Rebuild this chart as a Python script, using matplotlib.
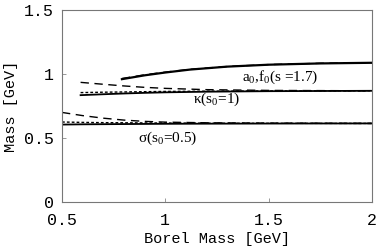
import matplotlib
matplotlib.use("Agg")
import matplotlib.pyplot as plt

plt.rcParams["mathtext.fontset"] = "custom"
plt.rcParams["mathtext.rm"] = "Liberation Serif"
plt.rcParams["mathtext.it"] = "Liberation Serif:italic"

# sigma (s0=0.5)
borel_sig = [0.5, 0.6, 0.7, 0.8, 0.9, 1.0, 1.2, 1.5, 2.0]
sig_solid = [0.605, 0.607, 0.608, 0.609, 0.610, 0.611, 0.612, 0.613, 0.614]
sig_dot = [0.625, 0.622, 0.620, 0.619, 0.618, 0.617, 0.616, 0.615, 0.614]
sig_dash = [0.700, 0.675, 0.655, 0.640, 0.630, 0.624, 0.619, 0.616, 0.614]

# kappa (s0=1)
borel_kap = [0.59, 0.7, 0.8, 0.9, 1.0, 1.2, 1.5, 2.0]
kap_solid = [0.835, 0.842, 0.848, 0.853, 0.857, 0.862, 0.866, 0.869]
kap_dot = [0.855, 0.858, 0.860, 0.862, 0.864, 0.866, 0.868, 0.869]
kap_dash = [0.935, 0.920, 0.907, 0.896, 0.888, 0.878, 0.872, 0.869]

# a0, f0 (s=1.7)
borel_a0 = [0.79, 0.9, 1.0, 1.12, 1.3, 1.5, 1.75, 2.0]
a0_solid = [0.960, 0.990, 1.012, 1.035, 1.058, 1.073, 1.083, 1.088]
a0_dash = [0.965, 0.994, 1.015, 1.037, 1.059, 1.074, 1.084, 1.089]

fig = plt.figure(figsize=(3.78, 2.46), dpi=100)
ax = fig.add_axes([0.164, 0.179, 0.820, 0.780])

lw = 1.3
for b, s, d, dd in [(borel_sig, sig_solid, sig_dot, sig_dash),
                    (borel_kap, kap_solid, kap_dot, kap_dash)]:
    ax.plot(b, s, color="black", lw=lw)
    ax.plot(b, d, color="black", lw=1.0, ls=(0, (2, 1.5)))
    ax.plot(b, dd, color="black", lw=1.0, ls=(0, (6, 4)))
ax.plot(borel_a0, a0_solid, color="black", lw=1.6)
ax.plot(borel_a0, a0_dash, color="black", lw=1.0, ls=(0, (6, 4)))

tfont = dict(family="Liberation Serif", fontsize=11)
ax.text(1.556, 0.975, "a$_0$,f$_0$(s =1.7)", ha="center", va="center", **tfont)
ax.text(1.25, 0.80, "κ(s$_0$=1)", ha="center", va="center", **tfont)
ax.text(1.01, 0.50, "σ(s$_0$=0.5)", ha="center", va="center", **tfont)

ax.set_xlim(0.5, 2)
ax.set_ylim(0, 1.5)
ax.set_xticks([0.5, 1, 1.5, 2])
ax.set_xticklabels(["0.5", "1", "1.5", "2"])
ax.set_yticks([0, 0.5, 1, 1.5])
ax.set_yticklabels(["0", "0.5", "1", "1.5"])
mono = "Liberation Mono"
for lab in ax.get_xticklabels() + ax.get_yticklabels():
    lab.set_family(mono)
    lab.set_fontsize(12)
ax.tick_params(direction="in", length=3, width=0.6, color="#888888")
ax.tick_params(axis="x", pad=8)
ax.tick_params(axis="y", pad=6)
for sp in ax.spines.values():
    sp.set_color("#777777")
    sp.set_linewidth(0.8)
ax.set_xlabel("Borel Mass [GeV]", family=mono, fontsize=11, labelpad=3)
ax.set_ylabel("Mass [GeV]", family=mono, fontsize=11, labelpad=4)

fig.savefig("out.png", dpi=100)
